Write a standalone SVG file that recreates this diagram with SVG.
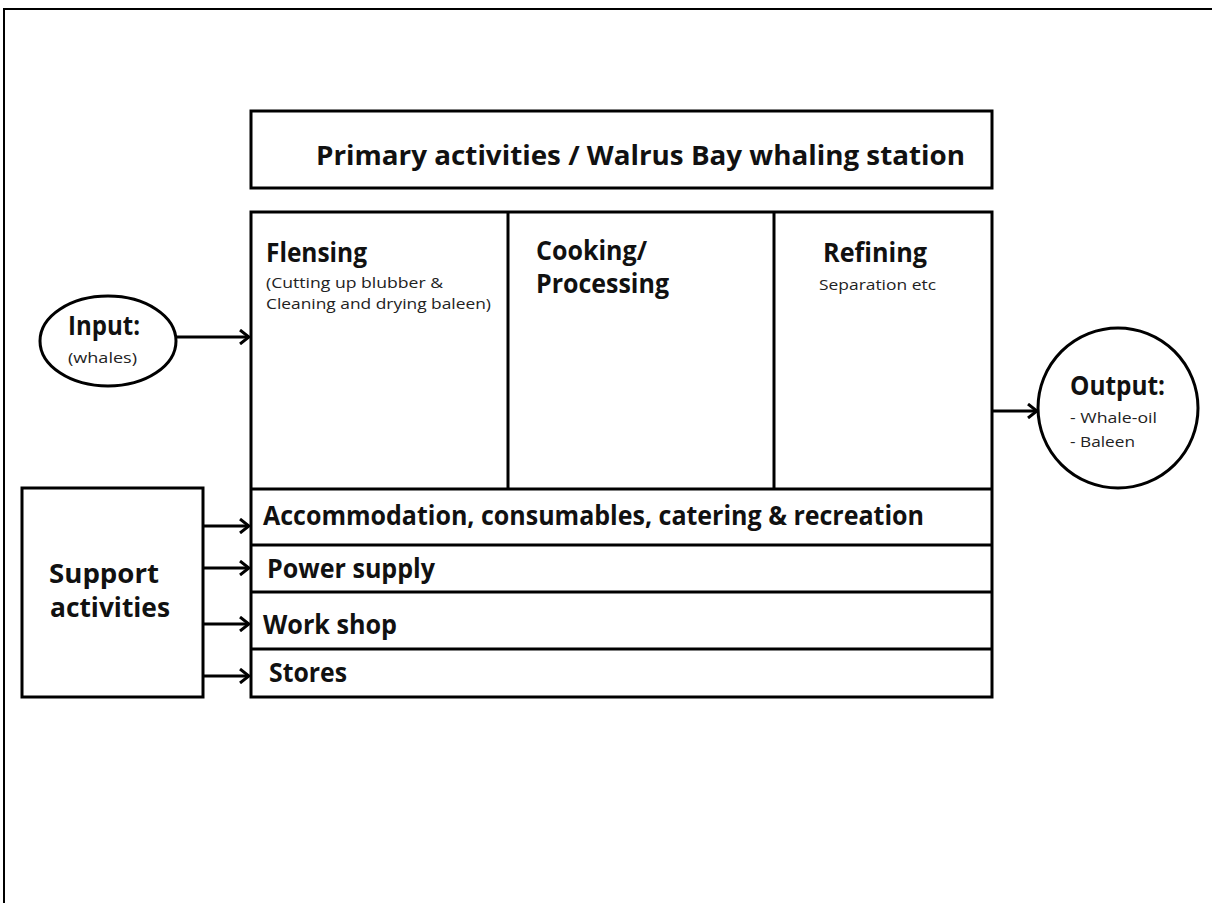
<svg xmlns="http://www.w3.org/2000/svg" width="1212" height="903" viewBox="0 0 1212 903">
<style>
.frame{fill:none;stroke:#000;stroke-width:2}
.box{fill:#fff;stroke:#000;stroke-width:3}
.div{stroke:#000;stroke-width:3}
.conn{stroke:#000;stroke-width:3;fill:none}
.b{font-family:"Open Sans","Liberation Sans",sans-serif;font-weight:bold;font-size:26px;fill:#111}
.s{font-family:"Open Sans","Liberation Sans",sans-serif;font-size:15px;fill:#222}
</style>
<defs>
<marker id="arr" viewBox="0 0 12 16" refX="11" refY="8" markerWidth="12" markerHeight="16" markerUnits="userSpaceOnUse" orient="auto">
<path d="M2,1 L11,8 L2,15" fill="none" stroke="#000" stroke-width="3"/>
</marker>
</defs>
<rect width="1212" height="903" fill="#fff"/>
<path class="frame" d="M4,903 V9 H1212"/>

<g id="title">
<rect class="box" x="251" y="111" width="741" height="77"/>
<text class="b" x="316" y="165" textLength="649" lengthAdjust="spacingAndGlyphs">Primary activities / Walrus Bay whaling station</text>
</g>

<g id="main">
<rect class="box" x="251" y="212" width="741" height="485"/>
<line class="div" x1="508" y1="212" x2="508" y2="489"/>
<line class="div" x1="774" y1="212" x2="774" y2="489"/>
<line class="div" x1="251" y1="489" x2="992" y2="489"/>
<line class="div" x1="251" y1="545" x2="992" y2="545"/>
<line class="div" x1="251" y1="592" x2="992" y2="592"/>
<line class="div" x1="251" y1="649" x2="992" y2="649"/>
</g>

<g id="flensing">
<text class="b" x="266" y="262" textLength="101" lengthAdjust="spacingAndGlyphs">Flensing</text>
<text class="s" x="266" y="288" textLength="177" lengthAdjust="spacingAndGlyphs">(Cutting up blubber &amp;</text>
<text class="s" x="266" y="309" textLength="225" lengthAdjust="spacingAndGlyphs">Cleaning and drying baleen)</text>
</g>
<g id="cooking">
<text class="b" x="536" y="260" textLength="111" lengthAdjust="spacingAndGlyphs">Cooking/</text>
<text class="b" x="536" y="293" textLength="133" lengthAdjust="spacingAndGlyphs">Processing</text>
</g>
<g id="refining">
<text class="b" x="823" y="262" textLength="104" lengthAdjust="spacingAndGlyphs">Refining</text>
<text class="s" x="819" y="290" textLength="117" lengthAdjust="spacingAndGlyphs">Separation etc</text>
</g>

<g id="accommodation"><text class="b" x="263" y="525" textLength="661" lengthAdjust="spacingAndGlyphs">Accommodation, consumables, catering &amp; recreation</text></g>
<g id="power"><text class="b" x="267" y="578" textLength="168" lengthAdjust="spacingAndGlyphs">Power supply</text></g>
<g id="workshop"><text class="b" x="263" y="634" textLength="134" lengthAdjust="spacingAndGlyphs">Work shop</text></g>
<g id="stores"><text class="b" x="269" y="682" textLength="78" lengthAdjust="spacingAndGlyphs">Stores</text></g>

<g id="input">
<ellipse class="box" cx="108" cy="341" rx="68" ry="45"/>
<text class="b" x="68" y="335" textLength="72" lengthAdjust="spacingAndGlyphs">Input:</text>
<text class="s" x="68" y="363" textLength="69" lengthAdjust="spacingAndGlyphs">(whales)</text>
</g>

<g id="output">
<circle class="box" cx="1118" cy="408" r="80"/>
<text class="b" x="1070" y="395" textLength="95" lengthAdjust="spacingAndGlyphs">Output:</text>
<text class="s" x="1070" y="423" textLength="87" lengthAdjust="spacingAndGlyphs">- Whale-oil</text>
<text class="s" x="1070" y="447" textLength="65" lengthAdjust="spacingAndGlyphs">- Baleen</text>
</g>

<g id="support">
<rect class="box" x="22" y="488" width="181" height="209"/>
<text class="b" x="49" y="583" textLength="110" lengthAdjust="spacingAndGlyphs">Support</text>
<text class="b" x="50" y="617" textLength="120" lengthAdjust="spacingAndGlyphs">activities</text>
</g>

<g id="connectors">
<line class="conn" x1="176" y1="337" x2="249" y2="337" marker-end="url(#arr)"/>
<line class="conn" x1="992" y1="411" x2="1037" y2="411" marker-end="url(#arr)"/>
<line class="conn" x1="203" y1="526" x2="249" y2="526" marker-end="url(#arr)"/>
<line class="conn" x1="203" y1="568" x2="249" y2="568" marker-end="url(#arr)"/>
<line class="conn" x1="203" y1="624" x2="249" y2="624" marker-end="url(#arr)"/>
<line class="conn" x1="203" y1="676" x2="249" y2="676" marker-end="url(#arr)"/>
</g>
</svg>
